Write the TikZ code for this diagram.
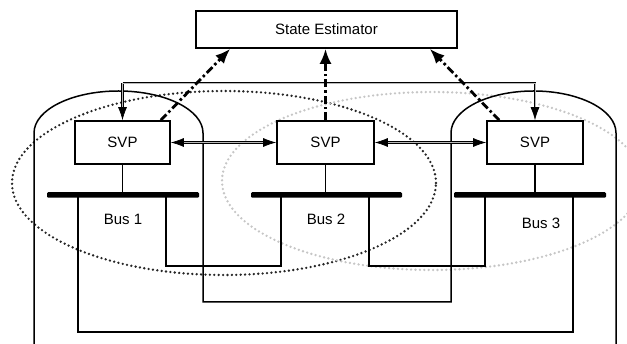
\documentclass[tikz,border=0pt]{standalone}
\usepackage{fontspec}
\setmainfont{Liberation Sans}
\usetikzlibrary{arrows.meta,calc}
\begin{document}
\begin{tikzpicture}[x=1pt,y=-1pt,
  >={Latex[length=13pt,width=9pt]},
  box/.style={draw,line width=1.6pt,minimum height=43pt,inner sep=0pt,
    font=\fontsize{15}{18}\selectfont},
  busbar/.style={fill=black,rounded corners=1.2pt,minimum height=5.5pt,inner sep=0pt},
  lbl/.style={inner sep=0pt,font=\fontsize{15}{18}\selectfont},
  wire/.style={line width=1.5pt},
  link/.style={line width=0.7pt,double=gray!55,double distance=1pt},
  report/.style={line width=2.8pt,dash pattern=on 8pt off 3pt on 2.5pt off 3pt,
    -{Latex[length=15pt,width=12pt]}},
  zone/.style={line width=2.6pt,line cap=round,dash pattern=on 0pt off 4.4pt},
]
\useasboundingbox (0,0) rectangle (627,344);

% overlapping observation zones
\draw[zone,black!85] (224,183) ellipse[x radius=212pt,y radius=92pt];
\draw[zone,gray!45] (432,181) ellipse[x radius=210pt,y radius=89pt];

% estimator and the three processors
\node[box,minimum width=261pt,minimum height=37pt] (se) at (326.5,29.5) {State Estimator};
\node[box,minimum width=95pt] (svp1) at (122.5,142.5) {SVP};
\node[box,minimum width=97pt] (svp2) at (325.5,142.5) {SVP};
\node[box,minimum width=96pt] (svp3) at (535,142.5) {SVP};

% bus bars and their labels
\node[busbar,minimum width=152pt] (bus1) at (123,195) {};
\node[busbar,minimum width=151pt] (bus2) at (326.5,195) {};
\node[busbar,minimum width=152pt] (bus3) at (530,195) {};
\node[lbl] (lab1) at (123,219) {Bus 1};
\node[lbl] (lab2) at (326,219) {Bus 2};
\node[lbl] (lab3) at (541,223) {Bus 3};

% processor to bus
\draw[wire] (svp1.south) -- (svp1.south |- bus1.north);
\draw[wire] (svp2.south) -- (svp2.south |- bus2.north);
\draw[wire] (svp3.south) -- (svp3.south |- bus3.north);

% feeder taps on the bus bars
\coordinate (p1a) at (78,197);
\coordinate (p1b) at (166,197);
\coordinate (p2a) at (281,197);
\coordinate (p2b) at (369,197);
\coordinate (p3a) at (485,197);
\coordinate (p3b) at (573,197);

% transmission lines
\draw[wire] (p1b) -- ++(0,69) -| (p2a);
\draw[wire] (p2b) -- ++(0,69) -| (p3a);
\draw[wire] (p1a) -- ++(0,135) -| (p3b);

% area boundaries around bus 1 and bus 3
\coordinate (arcL) at (34,344);
\coordinate (arcR) at (616,344);
\draw[wire] (arcL) -- (34,133) arc[start angle=180,end angle=0,x radius=84.5pt,y radius=42pt]
  -- (203,302) -- (451,302) -- (451,133)
  arc[start angle=180,end angle=0,x radius=82.5pt,y radius=42pt] -- (arcR);

% processor to processor links
\draw[link,->] ($(svp1.north)+(0,-37)$) coordinate (tl) -- (svp1.north);
\draw[link,->] (tl) -| (svp3.north);
\draw[link,<->] (svp1.east) -- (svp2.west);
\draw[link,<->] (svp2.east) -- (svp3.west);

% reports to the estimator
\draw[report] ($(svp1.north east)+(-10,0)$) -- ($(se.south west)+(35,0)$);
\draw[report] (svp2.north) -- (svp2.north |- se.south);
\draw[report] ($(svp3.north west)+(13,0)$) -- ($(se.south east)+(-28,0)$);
\end{tikzpicture}
\end{document}
